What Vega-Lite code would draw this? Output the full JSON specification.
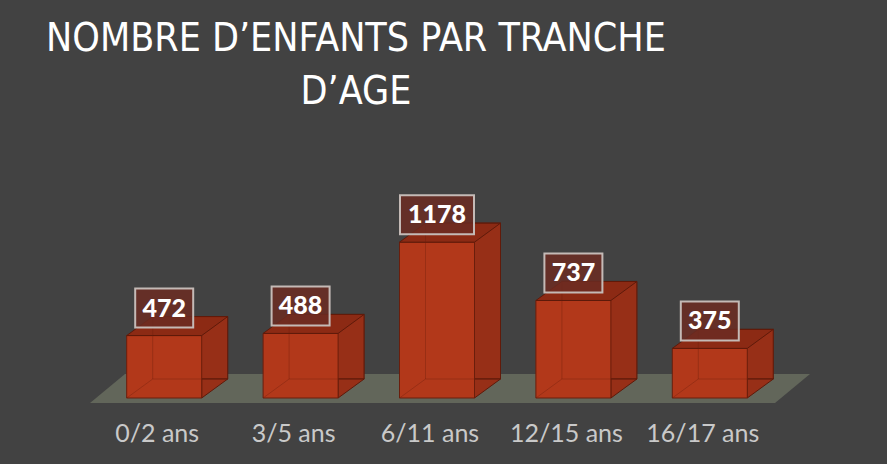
{
  "$schema": "https://vega.github.io/schema/vega-lite/v6.json",
  "autosize": {"type": "none"},
  "width": 682,
  "height": 172,
  "padding": {"left": 96, "top": 226, "right": 109, "bottom": 66},
  "background": "#424242",
  "config": {"view": {"stroke": null}},
  "title": {
    "text": ["NOMBRE D’ENFANTS PAR TRANCHE", "D’AGE"],
    "anchor": "middle",
    "dx": -81,
    "font": "Liberation Sans Narrow, DejaVu Sans Condensed, Roboto Condensed, Roboto",
    "fontSize": 39,
    "fontWeight": "normal",
    "color": "#ffffff",
    "lineHeight": 53,
    "offset": 79
  },
  "data": {
    "values": [
      {"cat": "0/2 ans", "n": 472},
      {"cat": "3/5 ans", "n": 488},
      {"cat": "6/11 ans", "n": 1178},
      {"cat": "12/15 ans", "n": 737},
      {"cat": "16/17 ans", "n": 375}
    ]
  },
  "encoding": {
    "x": {
      "field": "cat",
      "type": "nominal",
      "sort": null,
      "scale": {"domain": ["0/2 ans", "3/5 ans", "6/11 ans", "12/15 ans", "16/17 ans"], "paddingInner": 0, "paddingOuter": 0},
      "axis": {
        "title": null,
        "domain": false,
        "ticks": false,
        "grid": false,
        "labelAngle": 0,
        "labelFont": "Lato",
        "labelFontSize": 25,
        "labelColor": "#c9c9c9",
        "labelPadding": 23,
        "labelOffset": -7
      }
    }
  },
  "layer": [
    {
      "data": {"values": [{"k": 1}]},
      "mark": {"type": "point", "filled": true, "opacity": 1, "size": 4, "shape": "M-347,5L338,5L373,-24L-312,-24Z", "fill": "#62665a", "strokeWidth": 0},
      "encoding": {
        "x": {"datum": "6/11 ans", "type": "nominal"},
        "y": {"datum": 0, "type": "quantitative", "scale": {"domain": [0, 1300]}, "axis": null}
      }
    },
    {
      "mark": {"type": "bar", "width": 75, "xOffset": 26, "x2Offset": 26, "yOffset": -19, "y2Offset": -19, "fill": "#972f17", "stroke": "#5e1a0a", "strokeWidth": 1},
      "encoding": {
        "y": {"field": "n", "type": "quantitative", "scale": {"domain": [0, 1300]}, "axis": null}
      }
    },
    {
      "mark": {"type": "point", "filled": true, "opacity": 1, "size": 4, "shape": "M37.5,-19L37.5,0L63.5,-19Z", "fill": "#972f17", "stroke": "#5e1a0a", "strokeWidth": 1},
      "encoding": {
        "y": {"datum": 0, "type": "quantitative"}
      }
    },
    {
      "mark": {"type": "bar", "width": 75, "fill": "#b2381a", "stroke": "#6a1e0c", "strokeWidth": 1},
      "encoding": {
        "y": {"field": "n", "type": "quantitative"}
      }
    },
    {
      "mark": {"type": "point", "filled": true, "opacity": 1, "size": 4, "shape": "M-37.5,0L37.5,0L63.5,-19L-11.5,-19Z", "fill": "#8c2a14", "stroke": "#5e1a0a", "strokeWidth": 1},
      "encoding": {
        "y": {"field": "n", "type": "quantitative"}
      }
    },
    {
      "mark": {"type": "bar", "width": 75, "xOffset": 26, "x2Offset": 26, "yOffset": -19, "y2Offset": -19, "fillOpacity": 0, "stroke": "#6a1e0c", "strokeOpacity": 0.35, "strokeWidth": 1},
      "encoding": {
        "y": {"field": "n", "type": "quantitative"}
      }
    },
    {
      "mark": {"type": "point", "filled": false, "opacity": 1, "size": 4, "shape": "M-37.5,0L-11.5,-19", "stroke": "#6a1e0c", "strokeOpacity": 0.35, "strokeWidth": 1},
      "encoding": {
        "y": {"datum": 0, "type": "quantitative"}
      }
    },
    {
      "mark": {"type": "point", "filled": true, "opacity": 1, "size": 4, "fill": "#6b2b22", "fillOpacity": 0.85, "stroke": "#c4bab6", "strokeWidth": 2},
      "encoding": {
        "y": {"field": "n", "type": "quantitative"},
        "shape": {
          "condition": {"test": "datum.n >= 1000", "value": "M-37,-47L37,-47L37,-8L-37,-8Z"},
          "value": "M-29,-47L29,-47L29,-8L-29,-8Z"
        }
      }
    },
    {
      "mark": {"type": "text", "font": "Lato", "fontSize": 25, "fontWeight": 900, "fill": "#ffffff", "baseline": "middle", "align": "center", "dy": -27},
      "encoding": {
        "y": {"field": "n", "type": "quantitative"},
        "text": {"field": "n", "type": "quantitative"}
      }
    }
  ]
}
